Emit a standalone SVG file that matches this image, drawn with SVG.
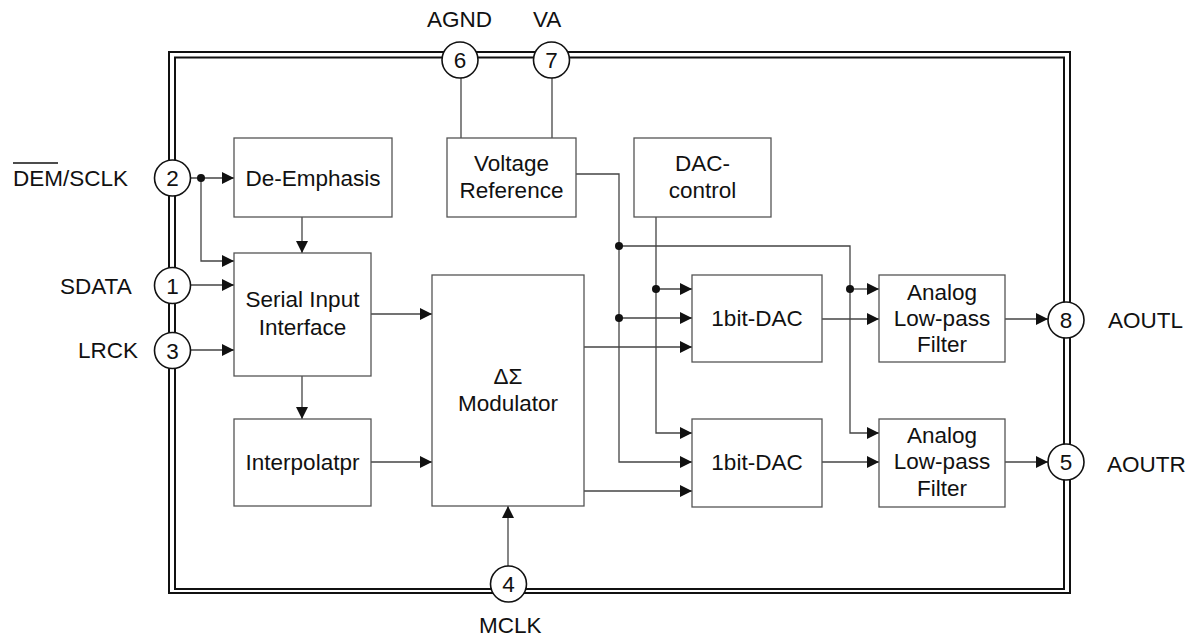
<svg xmlns="http://www.w3.org/2000/svg" width="1198" height="641" viewBox="0 0 1198 641">
<defs>
<style>
text{font-family:"Liberation Sans",Arial,sans-serif;font-size:22.5px;fill:#111}
.c{text-anchor:middle}
.box{fill:#fff;stroke:#555;stroke-width:1.3}
.pin{fill:#fff;stroke:#111;stroke-width:1.6}
.frame{fill:none;stroke:#111;stroke-width:2}
.w{fill:none;stroke:#444;stroke-width:1.3}
.dot{fill:#111}
</style>
<marker id="ar" markerUnits="userSpaceOnUse" markerWidth="12" markerHeight="12" refX="12" refY="6" orient="auto">
<path d="M0,0 L12,6 L0,12 z" fill="#111"/>
</marker>
</defs>
<rect width="1198" height="641" fill="#fff"/>
<g id="frame">
<rect class="frame" x="169" y="52" width="901" height="541"/>
<rect class="frame" x="175" y="57.5" width="889" height="531.5"/>
</g>
<g id="connectors">
<line class="w" x1="190" y1="178" x2="234" y2="178" marker-end="url(#ar)"/>
<polyline class="w" points="201,178 201,261 234,261" marker-end="url(#ar)"/>
<line class="w" x1="302" y1="217" x2="302" y2="253" marker-end="url(#ar)"/>
<line class="w" x1="190" y1="285" x2="234" y2="285" marker-end="url(#ar)"/>
<line class="w" x1="190" y1="350" x2="234" y2="350" marker-end="url(#ar)"/>
<line class="w" x1="302" y1="376" x2="302" y2="419" marker-end="url(#ar)"/>
<line class="w" x1="371" y1="314" x2="432" y2="314" marker-end="url(#ar)"/>
<line class="w" x1="371" y1="462" x2="432" y2="462" marker-end="url(#ar)"/>
<line class="w" x1="508" y1="566" x2="508" y2="506" marker-end="url(#ar)"/>
<line class="w" x1="461" y1="78" x2="461" y2="138"/>
<line class="w" x1="552" y1="78" x2="552" y2="138"/>
<polyline class="w" points="576,174 619,174 619,462 692,462" marker-end="url(#ar)"/>
<line class="w" x1="619" y1="318" x2="692" y2="318" marker-end="url(#ar)"/>
<polyline class="w" points="619,246 850,246 850,433 879,433" marker-end="url(#ar)"/>
<line class="w" x1="850" y1="289" x2="879" y2="289" marker-end="url(#ar)"/>
<polyline class="w" points="656,217 656,433 692,433" marker-end="url(#ar)"/>
<line class="w" x1="656" y1="289" x2="692" y2="289" marker-end="url(#ar)"/>
<line class="w" x1="584" y1="347" x2="692" y2="347" marker-end="url(#ar)"/>
<line class="w" x1="584" y1="491" x2="692" y2="491" marker-end="url(#ar)"/>
<line class="w" x1="822" y1="319" x2="879" y2="319" marker-end="url(#ar)"/>
<line class="w" x1="822" y1="462" x2="879" y2="462" marker-end="url(#ar)"/>
<line class="w" x1="1005" y1="319" x2="1048" y2="319" marker-end="url(#ar)"/>
<line class="w" x1="1005" y1="462" x2="1048" y2="462" marker-end="url(#ar)"/>
<circle class="dot" cx="201" cy="178" r="4"/>
<circle class="dot" cx="619" cy="246" r="4"/>
<circle class="dot" cx="619" cy="318" r="4"/>
<circle class="dot" cx="656" cy="289" r="4"/>
<circle class="dot" cx="850" cy="289" r="4"/>
</g>
<g id="de-emphasis"><rect class="box" x="234" y="138" width="158" height="79"/><text class="c" x="313" y="186">De-Emphasis</text></g>
<g id="serial-input"><rect class="box" x="234" y="253" width="137" height="123"/><text class="c" x="302.5" y="307">Serial Input</text><text class="c" x="302.5" y="335">Interface</text></g>
<g id="interpolator"><rect class="box" x="234" y="419" width="137" height="87"/><text class="c" x="302.5" y="470">Interpolatpr</text></g>
<g id="voltage-reference"><rect class="box" x="447" y="138" width="129" height="79"/><text class="c" x="511.5" y="171">Voltage</text><text class="c" x="511.5" y="198">Reference</text></g>
<g id="dac-control"><rect class="box" x="634" y="138" width="137" height="79"/><text class="c" x="702.5" y="171">DAC-</text><text class="c" x="702.5" y="198">control</text></g>
<g id="modulator"><rect class="box" x="432" y="275" width="152" height="231"/><text class="c" x="508" y="384">ΔΣ</text><text class="c" x="508" y="411">Modulator</text></g>
<g id="dac-top"><rect class="box" x="692" y="275" width="130" height="87"/><text class="c" x="757" y="326">1bit-DAC</text></g>
<g id="dac-bottom"><rect class="box" x="692" y="419" width="130" height="88"/><text class="c" x="757" y="470">1bit-DAC</text></g>
<g id="lpf-top"><rect class="box" x="879" y="275" width="126" height="87"/><text class="c" x="942" y="300">Analog</text><text class="c" x="942" y="326">Low-pass</text><text class="c" x="942" y="352">Filter</text></g>
<g id="lpf-bottom"><rect class="box" x="879" y="419" width="126" height="88"/><text class="c" x="942" y="443">Analog</text><text class="c" x="942" y="469">Low-pass</text><text class="c" x="942" y="496">Filter</text></g>
<g id="pin2"><circle class="pin" cx="172.5" cy="178" r="18"/><text class="c" x="172.5" y="186">2</text><text x="13" y="186">DEM/SCLK</text><line x1="13" y1="163" x2="58" y2="163" stroke="#111" stroke-width="1.5"/></g>
<g id="pin1"><circle class="pin" cx="172.5" cy="285.5" r="18"/><text class="c" x="172.5" y="293.5">1</text><text x="60" y="294">SDATA</text></g>
<g id="pin3"><circle class="pin" cx="172.5" cy="350.5" r="18"/><text class="c" x="172.5" y="358.5">3</text><text x="78" y="358">LRCK</text></g>
<g id="pin6"><circle class="pin" cx="460" cy="60" r="18"/><text class="c" x="460" y="68">6</text><text x="427" y="27">AGND</text></g>
<g id="pin7"><circle class="pin" cx="551.5" cy="60" r="18"/><text class="c" x="551.5" y="68">7</text><text x="533" y="27">VA</text></g>
<g id="pin8"><circle class="pin" cx="1066" cy="320" r="18"/><text class="c" x="1066" y="328">8</text><text x="1108" y="328">AOUTL</text></g>
<g id="pin5"><circle class="pin" cx="1066" cy="462" r="18"/><text class="c" x="1066" y="470">5</text><text x="1107" y="472">AOUTR</text></g>
<g id="pin4"><circle class="pin" cx="508.5" cy="584" r="18"/><text class="c" x="508.5" y="592">4</text><text x="479" y="633">MCLK</text></g>
</svg>
